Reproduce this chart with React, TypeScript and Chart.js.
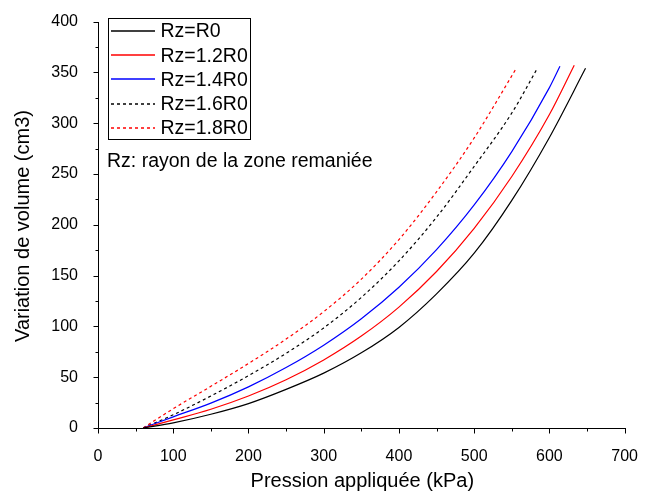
import React, { useEffect, useRef } from "react";
import { Chart, registerables } from "chart.js";

Chart.register(...registerables);

// Pressure (kPa) / volume change (cm3) per series
const r0X = [60, 100, 150, 200, 250, 300, 350, 400, 450, 500, 550, 600, 648];
const r0Y = [0, 5, 13.5, 24, 38, 54, 74, 99, 132, 172, 224, 286, 354];

const r12X = [60, 100, 150, 200, 250, 300, 350, 400, 450, 500, 550, 600, 633];
const r12Y = [0, 8, 18.5, 31.5, 47.5, 67, 90.5, 119, 154, 196.5, 247.5, 308.5, 357];

const r14X = [60, 100, 150, 200, 250, 300, 350, 400, 450, 500, 550, 600, 614];
const r14Y = [0, 11, 24.5, 40.5, 59.5, 81.5, 107.5, 138.5, 175.5, 219.5, 272, 335, 356];

const r16X = [60, 100, 150, 200, 250, 300, 350, 400, 450, 500, 550, 584];
const r16Y = [0, 13, 31.5, 51.5, 73.5, 98.5, 128.5, 164.5, 207.5, 257.5, 310, 354];

const r18X = [60, 100, 150, 200, 250, 300, 350, 400, 450, 500, 556];
const r18Y = [0, 19, 41, 63.5, 87.5, 114.5, 146.5, 185.5, 232.5, 285.5, 354];

const seriesLabels = ["Rz=R0", "Rz=1.2R0", "Rz=1.4R0", "Rz=1.6R0", "Rz=1.8R0"];
const seriesColors = ["#000000", "#ff0000", "#0000ff", "#000000", "#ff0000"];
const seriesDashes: number[][] = [[], [], [], [3, 3], [3, 3]];
const xTitle = "Pression appliquée (kPa)";
const yTitle = "Variation de volume (cm3)";
const note = "Rz: rayon de la zone remaniée";

const FONT = "'Liberation Sans', Arial, sans-serif";

const pts = (xs: number[], ys: number[]) => xs.map((x, i) => ({ x, y: ys[i] }));

const decorPlugin = {
  id: "decor",
  afterDraw(chart: any) {
    const { ctx, chartArea, scales } = chart;
    const { left, right, top, bottom } = chartArea;
    const xs = scales.x;
    const ys = scales.y;
    ctx.save();
    ctx.strokeStyle = "#000";
    ctx.lineWidth = 1;
    const L = Math.round(left) + 0.5;
    const B = Math.round(bottom) + 0.5;
    ctx.beginPath();
    // axis lines
    ctx.moveTo(L, Math.round(top));
    ctx.lineTo(L, B);
    ctx.lineTo(Math.round(right) + 1, B);
    // x ticks
    for (let v = 0; v <= 700; v += 50) {
      const px = Math.round(xs.getPixelForValue(v)) + 0.5;
      const len = v % 100 === 0 ? 5 : 3;
      ctx.moveTo(px, B);
      ctx.lineTo(px, B + len);
    }
    for (let v = 0; v <= 400; v += 25) {
      const py = Math.round(ys.getPixelForValue(v)) + 0.5;
      const len = v % 50 === 0 ? 5 : 3;
      ctx.moveTo(L, py);
      ctx.lineTo(L - len, py);
    }
    ctx.stroke();

    // axis titles
    ctx.fillStyle = "#000";
    ctx.font = `20px ${FONT}`;
    ctx.textAlign = "center";
    ctx.textBaseline = "middle";
    ctx.fillText(xTitle, (left + right) / 2 + 1, 481);
    ctx.save();
    ctx.translate(23, 226);
    ctx.rotate(-Math.PI / 2);
    ctx.fillText(yTitle, 0, 0);
    ctx.restore();

    // legend
    const bx = 108.5, by = 18.5, bw = 142, bh = 121;
    ctx.fillStyle = "#fff";
    ctx.fillRect(bx, by, bw, bh);
    ctx.strokeStyle = "#000";
    ctx.lineWidth = 1;
    ctx.strokeRect(bx, by, bw, bh);
    ctx.font = `19.5px ${FONT}`;
    ctx.textAlign = "left";
    ctx.textBaseline = "middle";
    seriesLabels.forEach((label, i) => {
      const y = 31 + i * 24.2;
      ctx.save();
      ctx.strokeStyle = seriesColors[i];
      ctx.lineWidth = 1.5;
      ctx.setLineDash(seriesDashes[i]);
      ctx.beginPath();
      ctx.moveTo(111, Math.round(y));
      ctx.lineTo(155, Math.round(y));
      ctx.stroke();
      ctx.restore();
      ctx.fillStyle = "#000";
      ctx.fillText(label, 160.5, y + 1);
    });
    ctx.fillText(note, 107, 162);
    ctx.restore();
  },
};

export default function App() {
  const ref = useRef<HTMLCanvasElement>(null);
  useEffect(() => {
    document.body.style.margin = "0";
    const xsAll = [r0X, r12X, r14X, r16X, r18X];
    const ysAll = [r0Y, r12Y, r14Y, r16Y, r18Y];
    const datasets = seriesLabels.map((label, i) => ({
      label,
      data: pts(xsAll[i], ysAll[i]),
      borderColor: seriesColors[i],
      backgroundColor: seriesColors[i],
      borderWidth: 1.2,
      borderDash: seriesDashes[i],
      pointRadius: 0,
      fill: false,
      cubicInterpolationMode: "monotone" as const,
    }));
    const chart = new Chart(ref.current!, {
      type: "line",
      data: { datasets },
      options: {
        responsive: false,
        animation: false,
        layout: { padding: { top: 19, right: 13, left: 0, bottom: 0 } },
        plugins: { legend: { display: false }, tooltip: { enabled: false } },
        scales: {
          x: {
            type: "linear",
            min: 0,
            max: 700,
            afterFit: (s: any) => { s.height = 63; },
            grid: { display: false },
            border: { display: false },
            ticks: {
              stepSize: 100,
              color: "#000",
              font: { family: FONT, size: 16 },
              padding: 11,
              maxRotation: 0,
            },
          },
          y: {
            type: "linear",
            min: 0,
            max: 400,
            afterFit: (s: any) => { s.width = 98; },
            grid: { display: false },
            border: { display: false },
            ticks: {
              stepSize: 50,
              color: "#000",
              font: { family: FONT, size: 16 },
              padding: 12,
            },
          },
        },
      },
      plugins: [decorPlugin],
    });
    return () => chart.destroy();
  }, []);
  return (
    <div style={{ position: "absolute", left: 0, top: 0 }}>
      <canvas ref={ref} width={649} height={491} style={{ width: 649, height: 491, display: "block" }} />
    </div>
  );
}
